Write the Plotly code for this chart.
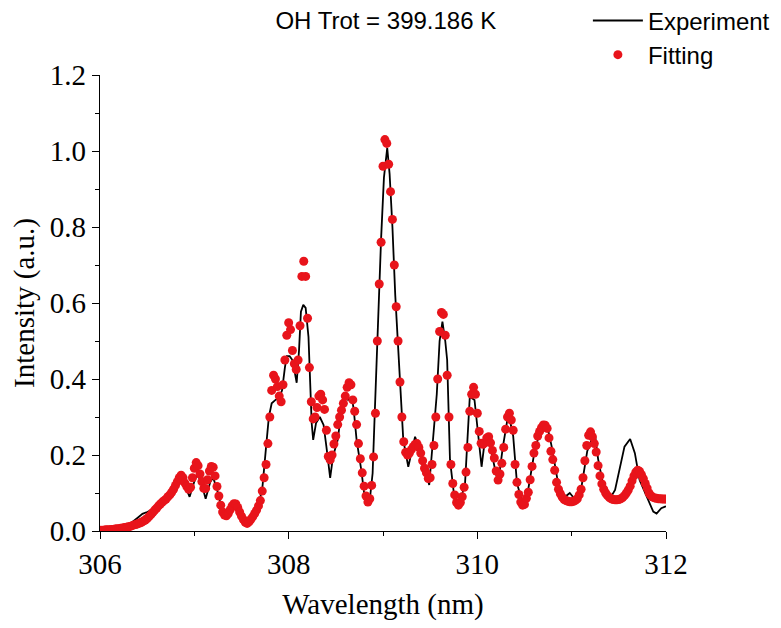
import plotly.graph_objects as go

# ---------------- data ----------------
title_text = "OH Trot = 399.186 K"
x_ticks = [306, 308, 310, 312]
y_ticks = [0.0, 0.2, 0.4, 0.6, 0.8, 1.0, 1.2]

# Experiment (black line): wavelength (nm), intensity (a.u.)
exp_wl = [306.00, 306.10, 306.20, 306.30, 306.40, 306.45, 306.50, 306.55, 306.60, 306.70,
          306.80, 306.86, 306.90, 306.95, 307.00, 307.03, 307.07, 307.12, 307.17, 307.20,
          307.24, 307.28, 307.33, 307.37, 307.43, 307.48, 307.53, 307.56, 307.62, 307.68,
          307.72, 307.76, 307.79, 307.82, 307.86, 307.90, 307.93, 307.96, 307.98, 308.01,
          308.04, 308.07, 308.085, 308.11, 308.13, 308.155, 308.18, 308.21, 308.226, 308.244,
          308.26, 308.29, 308.33, 308.37, 308.40, 308.44, 308.47, 308.52, 308.56, 308.60,
          308.63, 308.67, 308.69, 308.72, 308.77, 308.80, 308.86, 308.89, 308.915, 308.95,
          308.98, 309.01, 309.045, 309.07, 309.10, 309.13, 309.18, 309.215, 309.268, 309.34,
          309.41, 309.49, 309.57, 309.60, 309.63, 309.66, 309.68, 309.71, 309.76, 309.80,
          309.87, 309.92, 309.97, 310.01, 310.045, 310.08, 310.13, 310.19, 310.22, 310.27,
          310.33, 310.38, 310.42, 310.49, 310.54, 310.60, 310.66, 310.70, 310.735, 310.79,
          310.86, 310.93, 310.98, 311.03, 311.10, 311.165, 311.21, 311.25, 311.28, 311.335,
          311.41, 311.46, 311.51, 311.56, 311.62, 311.67, 311.72, 311.795, 311.865, 311.90,
          311.95, 311.99, 312.00]
exp_int = [0.003, 0.004, 0.008, 0.015, 0.035, 0.045, 0.050, 0.055, 0.062, 0.085,
           0.115, 0.135, 0.120, 0.090, 0.130, 0.150, 0.130, 0.085, 0.130, 0.140,
           0.110, 0.070, 0.040, 0.045, 0.070, 0.050, 0.030, 0.025, 0.040, 0.070,
           0.110, 0.220, 0.300, 0.336, 0.345, 0.350, 0.370, 0.430, 0.460, 0.460,
           0.450, 0.410, 0.390, 0.476, 0.577, 0.595, 0.587, 0.511, 0.390, 0.284,
           0.240, 0.284, 0.300, 0.279, 0.222, 0.140, 0.196, 0.240, 0.318, 0.360,
           0.345, 0.353, 0.318, 0.240, 0.160, 0.100, 0.082, 0.152, 0.327, 0.590,
           0.770, 0.930, 1.008, 0.940, 0.800, 0.620, 0.400, 0.240, 0.169, 0.248,
           0.200, 0.121, 0.360, 0.500, 0.551, 0.500, 0.450, 0.187, 0.080, 0.060,
           0.126, 0.353, 0.345, 0.248, 0.169, 0.240, 0.230, 0.160, 0.126, 0.220,
           0.310, 0.250, 0.126, 0.064, 0.110, 0.200, 0.260, 0.275, 0.284, 0.220,
           0.120, 0.090, 0.100, 0.085, 0.110, 0.210, 0.240, 0.248, 0.190, 0.120,
           0.087, 0.108, 0.169, 0.222, 0.242, 0.205, 0.134, 0.090, 0.051, 0.046,
           0.060, 0.064, 0.065]

# Fitting (red dots): sampled every 0.02 nm from 306.00 nm to 312.00 nm
fit_start, fit_step = 306.00, 0.02
fit_int = [
    0.002, 0.002, 0.002, 0.003, 0.003, 0.003, 0.004, 0.004, 0.005, 0.006,   # 306.00-306.18
    0.006, 0.007, 0.008, 0.009, 0.010, 0.011, 0.012, 0.014, 0.016, 0.017,   # 306.20-306.38
    0.019, 0.021, 0.023, 0.026, 0.029, 0.033, 0.038, 0.043, 0.049, 0.055,   # 306.40-306.58
    0.060, 0.066, 0.071, 0.076, 0.080, 0.084, 0.090, 0.095, 0.102, 0.110,   # 306.60-306.78
    0.120, 0.130, 0.140, 0.147, 0.140, 0.126, 0.117, 0.110, 0.115, 0.140,   # 306.80-306.98
    0.165, 0.180, 0.172, 0.150, 0.130, 0.112, 0.112, 0.135, 0.158, 0.170,   # 307.00-307.18
    0.168, 0.145, 0.117, 0.092, 0.068, 0.050, 0.042, 0.040, 0.046, 0.056,   # 307.20-307.38
    0.066, 0.072, 0.071, 0.062, 0.050, 0.039, 0.030, 0.023, 0.020, 0.024,   # 307.40-307.58
    0.031, 0.038, 0.046, 0.055, 0.066, 0.080, 0.105, 0.140, 0.175, 0.230,   # 307.60-307.78
    0.300, 0.370, 0.410, 0.400, 0.380, 0.355, 0.340, 0.385, 0.450, 0.515,   # 307.80-307.98
    0.548, 0.530, 0.475, 0.440, 0.425, 0.450, 0.540, 0.670, 0.710, 0.670,   # 308.00-308.18
    0.560, 0.430, 0.340, 0.295, 0.300, 0.325, 0.355, 0.360, 0.345, 0.320,   # 308.20-308.38
    0.265, 0.196, 0.187, 0.200, 0.229, 0.250, 0.280, 0.300, 0.318, 0.336,   # 308.40-308.58
    0.355, 0.378, 0.390, 0.385, 0.345, 0.315, 0.280, 0.230, 0.190, 0.153,   # 308.60-308.78
    0.118, 0.092, 0.076, 0.085, 0.120, 0.195, 0.310, 0.500, 0.650, 0.760,   # 308.80-308.98
    0.960, 1.030, 1.020, 0.965, 0.893, 0.820, 0.700, 0.590, 0.500, 0.392,   # 309.00-309.18
    0.300, 0.235, 0.207, 0.200, 0.205, 0.214, 0.222, 0.228, 0.230, 0.220,   # 309.20-309.38
    0.205, 0.185, 0.165, 0.153, 0.138, 0.140, 0.175, 0.225, 0.300, 0.400,   # 309.40-309.58
    0.525, 0.575, 0.570, 0.515, 0.410, 0.300, 0.175, 0.125, 0.095, 0.075,   # 309.60-309.78
    0.068, 0.075, 0.090, 0.115, 0.155, 0.220, 0.315, 0.360, 0.378, 0.360,   # 309.80-309.98
    0.310, 0.262, 0.231, 0.228, 0.232, 0.245, 0.248, 0.232, 0.212, 0.192,   # 310.00-310.18
    0.158, 0.134, 0.150, 0.178, 0.220, 0.268, 0.300, 0.310, 0.292, 0.265,   # 310.20-310.38
    0.175, 0.128, 0.096, 0.076, 0.068, 0.070, 0.086, 0.102, 0.135, 0.170,   # 310.40-310.58
    0.205, 0.225, 0.250, 0.262, 0.272, 0.279, 0.278, 0.270, 0.245, 0.210,   # 310.60-310.78
    0.188, 0.160, 0.128, 0.110, 0.098, 0.089, 0.083, 0.080, 0.078, 0.077,   # 310.80-310.98
    0.077, 0.078, 0.081, 0.085, 0.095, 0.110, 0.140, 0.185, 0.225, 0.252,   # 311.00-311.18
    0.261, 0.248, 0.230, 0.208, 0.172, 0.145, 0.124, 0.110, 0.100, 0.093,   # 311.20-311.38
    0.088, 0.085, 0.083, 0.082, 0.082, 0.083, 0.085, 0.088, 0.093, 0.100,   # 311.40-311.58
    0.108, 0.118, 0.132, 0.145, 0.155, 0.160, 0.157, 0.148, 0.138, 0.125,   # 311.60-311.78
    0.113, 0.100, 0.093, 0.089, 0.087, 0.086, 0.085, 0.085, 0.084, 0.084,   # 311.80-311.98
    0.084,                                                                  # 312.00
]
fit_wl = [round(fit_start + fit_step * i, 2) for i in range(len(fit_int))]

# ---------------- figure ----------------
serif = "Liberation Serif, Times New Roman, serif"
sans = "Liberation Sans, Arial, sans-serif"

fig = go.Figure()
fig.add_trace(go.Scatter(
    x=exp_wl, y=exp_int, mode="lines", name="Experiment",
    line=dict(color="black", width=1.8),
))
fig.add_trace(go.Scatter(
    x=fit_wl, y=fit_int, mode="markers", name="Fitting",
    marker=dict(color="#e8141b", size=9, line=dict(width=0)),
))

axis_common = dict(
    showline=True, linecolor="black", linewidth=1.3, mirror=False,
    ticks="outside", ticklen=7, tickwidth=1.3, tickcolor="black",
    showgrid=False, zeroline=False,
    tickfont=dict(family=serif, size=29, color="black"),
)

# the page adds an 8 px body margin, so the figure is made 8 px smaller
fig.update_layout(
    width=773, height=620,
    margin=dict(l=92, r=115, t=67, b=97, autoexpand=False),
    paper_bgcolor="white", plot_bgcolor="white",
    title=dict(text=title_text, x=0.505, xanchor="center", xref="paper",
               y=0.979, yanchor="middle", yref="container",
               font=dict(family=sans, size=24, color="black")),
    showlegend=True,
    legend=dict(x=0.862, y=1.168, xanchor="left", yanchor="top",
                bgcolor="rgba(0,0,0,0)", borderwidth=0,
                font=dict(family=sans, size=24, color="black"),
                itemwidth=50, tracegroupgap=0),
    xaxis=dict(
        range=[306, 312], tickvals=x_ticks, ticktext=[str(v) for v in x_ticks],
        minor=dict(dtick=1, ticklen=4, tickwidth=1.3, tickcolor="black", ticks="outside"),
        title=dict(text="Wavelength (nm)", font=dict(family=serif, size=29, color="black"),
                   standoff=14),
        automargin=False,
        **axis_common,
    ),
    yaxis=dict(
        range=[0, 1.2], tickvals=y_ticks, ticktext=[f"{v:.1f}" for v in y_ticks],
        minor=dict(dtick=0.1, ticklen=4, tickwidth=1.3, tickcolor="black", ticks="outside"),
        title=dict(text="Intensity (a.u.)", font=dict(family=serif, size=29, color="black"),
                   standoff=8),
        automargin=False,
        **axis_common,
    ),
)

fig.write_html("out.html")
